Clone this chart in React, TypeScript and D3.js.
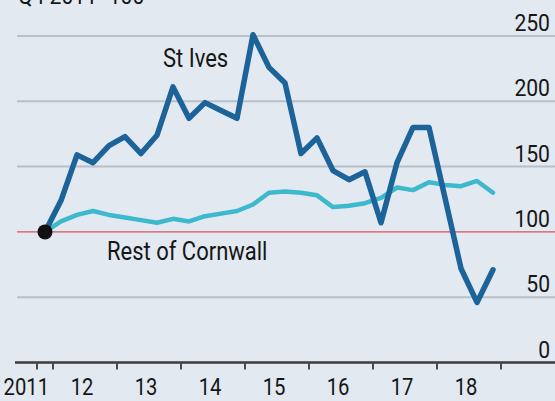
import React from "react";
import * as d3 from "d3";

const quarters = [
  "2011Q4",
  "2012Q1", "2012Q2", "2012Q3", "2012Q4",
  "2013Q1", "2013Q2", "2013Q3", "2013Q4",
  "2014Q1", "2014Q2", "2014Q3", "2014Q4",
  "2015Q1", "2015Q2", "2015Q3", "2015Q4",
  "2016Q1", "2016Q2", "2016Q3", "2016Q4",
  "2017Q1", "2017Q2", "2017Q3", "2017Q4",
  "2018Q1", "2018Q2", "2018Q3", "2018Q4",
];

const stIves = [
  100, 124, 159, 153, 166, 173, 160, 174, 211, 187, 199, 193, 187, 251, 226,
  214, 160, 172, 147, 140, 146, 107, 153, 180, 180, 126, 72, 46, 71,
];

const restOfCornwall = [
  100, 108, 113, 116, 113, 111, 109, 107, 110, 108, 112, 114, 116, 121, 130,
  131, 130, 128, 119, 120, 122, 126, 134, 132, 138, 136, 135, 139, 130,
];

const yTicks = [0, 50, 100, 150, 200, 250];
const yearTicks = [2011.75, 2012, 2013, 2014, 2015, 2016, 2017, 2018, 2019];
const yearLabels = ["2011", "12", "13", "14", "15", "16", "17", "18"];
const subtitle = "Q4 2011=100";

const W = 555;
const H = 401;
const FONT = "Roboto, 'Noto Sans', sans-serif";
const SX = 0.88;

function qToYear(q: string) {
  const y = +q.slice(0, 4);
  const n = +q.slice(5);
  return y + (n - 1) / 4 + 0.125;
}

export default function App() {
  const x = d3.scaleLinear().domain([2011.75, 2019]).range([37, 501]);
  const y = d3.scaleLinear().domain([0, 250]).range([362.5, 36]);

  const line = d3
    .line<number>()
    .x((_, i) => x(qToYear(quarters[i])))
    .y((d) => y(d));

  const txt = (
    key: string,
    tx: number,
    ty: number,
    s: string,
    anchor: string,
    size = 24
  ) => (
    <text
      key={key}
      transform={`translate(${tx},${ty}) scale(${SX},1)`}
      textAnchor={anchor}
      fontFamily={FONT}
      fontSize={size}
      fill="#161616"
    >
      {s}
    </text>
  );

  return (
    <svg
      width={W}
      height={H}
      style={{ position: "absolute", left: 0, top: 0, display: "block" }}
    >
      <rect x={0} y={0} width={W} height={H} fill="#e2e9f0" />
      {txt("sub", 18, 4, subtitle, "start")}
      {yTicks
        .filter((v) => v !== 0 && v !== 100)
        .map((v) => (
          <line
            key={"g" + v}
            x1={17}
            x2={W}
            y1={y(v)}
            y2={y(v)}
            stroke="#b8c0c8"
            strokeWidth={2}
          />
        ))}
      <line
        x1={17}
        x2={W}
        y1={y(100)}
        y2={y(100)}
        stroke="#d9535a"
        strokeWidth={1.2}
      />
      {yTicks.map((v) =>
        txt("yl" + v, 550, y(v) - 5, String(v), "end")
      )}
      <line
        x1={15}
        x2={W}
        y1={y(0)}
        y2={y(0)}
        stroke="#3a3a3a"
        strokeWidth={2.5}
      />
      {yearTicks.map((t) => (
        <line
          key={"t" + t}
          x1={x(t)}
          x2={x(t)}
          y1={y(0)}
          y2={y(0) + 7}
          stroke="#4a4a4a"
          strokeWidth={2}
        />
      ))}
      {yearLabels.map((l, i) =>
        i === 0
          ? txt("xl" + l, x(2012) - 4, 395, l, "end", 23)
          : txt("xl" + l, x(2011.5 + i) - 3, 395, l, "middle", 23)
      )}
      <path
        d={line(restOfCornwall) || ""}
        fill="none"
        stroke="#3cb9cd"
        strokeWidth={4.5}
        strokeLinejoin="round"
        strokeLinecap="round"
      />
      <path
        d={line(stIves) || ""}
        fill="none"
        stroke="#1b6398"
        strokeWidth={5.5}
        strokeLinejoin="round"
        strokeLinecap="round"
      />
      <circle
        cx={x(qToYear(quarters[0]))}
        cy={y(stIves[0])}
        r={7.5}
        fill="#111"
      />
      {txt("lab1", 163, 67, "St Ives", "start", 25)}
      {txt("lab2", 107, 260, "Rest of Cornwall", "start", 25)}
    </svg>
  );
}
